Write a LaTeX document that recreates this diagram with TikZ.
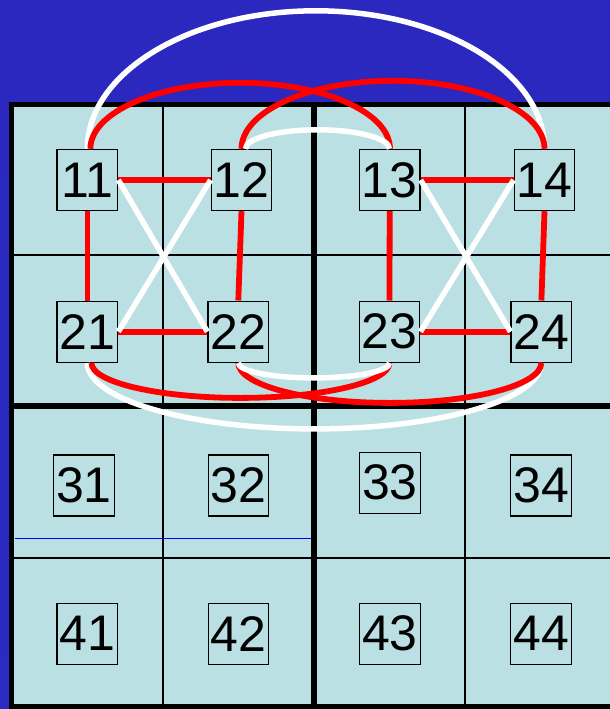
\documentclass[tikz,border=0pt]{standalone}
\usepackage{fontspec}
\setmainfont{Liberation Sans}
\definecolor{bgtop}{RGB}{42,40,190}
\definecolor{bgmid}{RGB}{50,50,248}
\definecolor{bgbot}{RGB}{42,42,196}
\definecolor{cellfill}{RGB}{187,224,227}
\definecolor{linkred}{RGB}{255,0,0}
\tikzset{
  pe/.style={draw=black, line width=1.4pt, fill=cellfill, minimum width=60.5pt,
    minimum height=61pt, inner sep=0pt, font=\fontsize{50}{50}\selectfont},
  redlink/.style={draw=linkred, line width=5.8pt},
  whitelink/.style={draw=white, line width=5.5pt},
  thinline/.style={draw=black, line width=1.8pt},
  thickline/.style={draw=black, line width=5.5pt}
}
\begin{document}
\begin{tikzpicture}[x=1pt,y=1pt]
\clip (0,0) rectangle (610,-709);
\shade[top color=bgtop, middle color=bgmid, bottom color=bgbot] (0,0) rectangle (610,-709);
% grid
\fill[cellfill] (11.5,-104.5) rectangle (616,-707);
\draw[thinline] (163,-104.5) -- (163,-707);
\draw[thinline] (465,-104.5) -- (465,-707);
\draw[thinline] (11.5,-255) -- (616,-255);
\draw[thinline] (11.5,-558) -- (616,-558);
\draw[draw=blue, line width=0.9pt] (15,-538) -- (311,-538);
\draw[thickline] (314,-104.5) -- (314,-707);
\draw[thickline] (11.5,-406) -- (616,-406);
\draw[thickline] (11.5,-104.5) rectangle (616,-707);
% nodes
\node[pe] (n11) at (87.4,-180) {11};
\node[pe] (n12) at (241.5,-180) {12};
\node[pe] (n13) at (389.7,-180) {13};
\node[pe] (n14) at (544.5,-180) {14};
\node[pe] (n21) at (87.4,-331.7) {21};
\node[pe] (n22) at (238.3,-331.7) {22};
\node[pe] (n23) at (389.5,-331.7) {23};
\node[pe] (n24) at (541.4,-331.7) {24};
\node[pe] (n31) at (84,-485.5) {31};
\node[pe] (n32) at (238.5,-485.5) {32};
\node[pe] (n33) at (390,-482.7) {33};
\node[pe] (n34) at (541,-485.5) {34};
\node[pe] (n41) at (87.4,-633.7) {41};
\node[pe] (n42) at (238.5,-633.7) {42};
\node[pe] (n43) at (390,-633.7) {43};
\node[pe] (n44) at (541,-633.7) {44};
% top arcs
\draw[whitelink] (n11.north) arc[start angle=180, end angle=0, x radius=228.5, y radius=138];
\draw[redlink] ([xshift=3pt]n11.north) arc[start angle=180, end angle=0, x radius=149.8, y radius=66];
\draw[redlink] (n12.north) arc[start angle=180, end angle=0, x radius=151.5, y radius=68];
\draw[whitelink] ([xshift=4pt]n12.north) arc[start angle=180, end angle=0, x radius=72, y radius=19];
% bottom arcs
\draw[whitelink] (n21.south) arc[start angle=180, end angle=360, x radius=227, y radius=66];
\draw[redlink] ([xshift=4pt]n21.south) arc[start angle=180, end angle=360, x radius=149, y radius=35];
\draw[redlink] (n22.south) arc[start angle=180, end angle=360, x radius=151.5, y radius=40];
\draw[whitelink] (n22.south) arc[start angle=180, end angle=360, x radius=75.6, y radius=15];
% straight links
\draw[redlink] (n11.east) -- (n12.west);
\draw[redlink] (n11.south) -- (n21.north);
\draw[redlink] (n12.south) -- (n22.north);
\draw[redlink] (n21.east) -- (n22.west);
\draw[redlink] (n13.east) -- (n14.west);
\draw[redlink] (n13.south) -- (n23.north);
\draw[redlink] (n14.south) -- (n24.north);
\draw[redlink] (n23.east) -- (n24.west);
\draw[whitelink] (n11.east) -- (n22.west);
\draw[whitelink] (n12.west) -- (n21.east);
\draw[whitelink] (n13.east) -- (n24.west);
\draw[whitelink] (n14.west) -- (n23.east);
\end{tikzpicture}
\end{document}
